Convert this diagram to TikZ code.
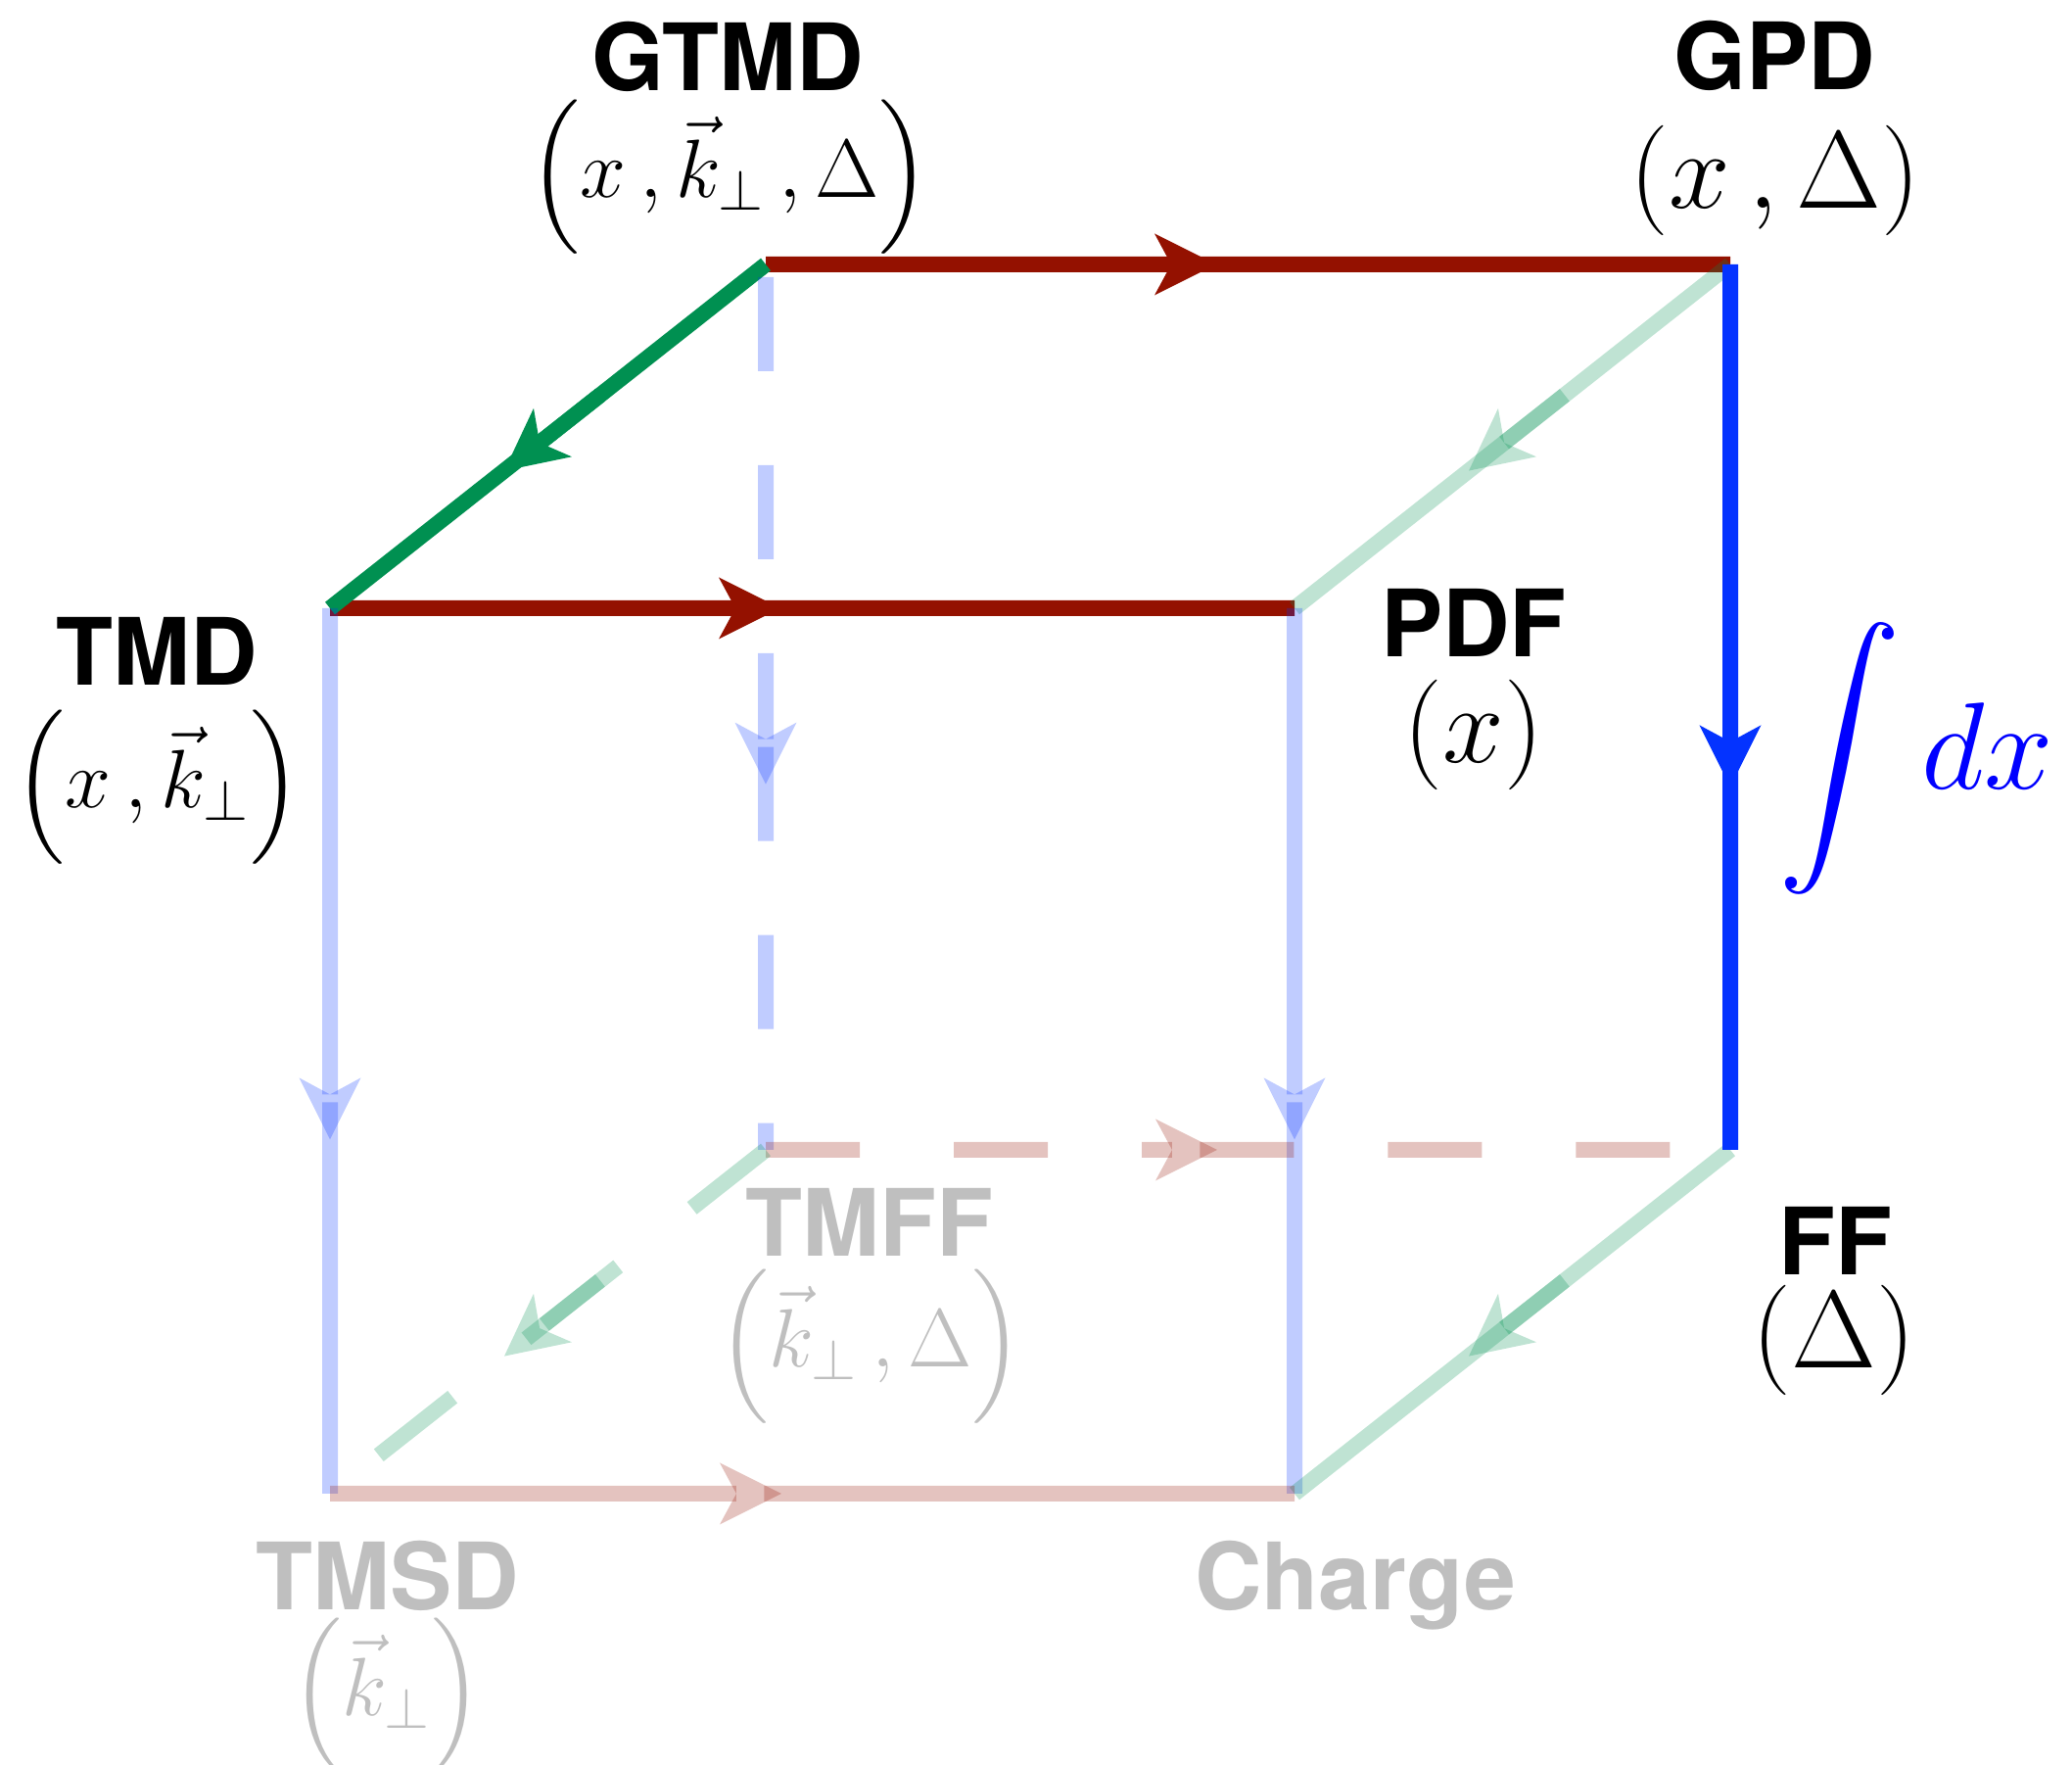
\RequirePackage{fix-cm}
\documentclass[tikz,border=0pt]{standalone}
\usepackage{amsmath}
\usepackage{graphicx}
\usepackage{fontspec}
\newfontfamily\heros{TeX Gyre Heros}
\usepackage{tikz}
\usetikzlibrary{arrows.meta, calc}
\definecolor{cayenne}{HTML}{941100}
\definecolor{moss}{HTML}{009051}
\definecolor{blueberry}{HTML}{0433FF}

\begin{document}
\begin{tikzpicture}[x=1cm, y=1cm, >={Stealth[length=6.3mm, width=6.3mm, inset=1.7mm, line width=0pt]},
        wire/.style={line width=1.6mm},
        faint/.style={opacity=0.25},
        gap/.style={dash pattern=on 9.6mm off 9.6mm},
        lbl/.style={font=\heros\bfseries\fontsize{27}{32}\selectfont, anchor=base},
        vars/.style={font=\fontsize{32}{38}\selectfont, anchor=base},
        kvars/.style={font=\fontsize{24}{29}\selectfont, anchor=base},
        ghost/.style={text=black!25}]

        \useasboundingbox (0,0) rectangle (21.16,18.02);

        % Corners of the cube
        % Back face
        \coordinate (gtmd) at (7.82,15.32);
        \coordinate (gpd) at (17.67,15.32);
        \coordinate (tmff) at (7.82,6.28);
        \coordinate (ff) at (17.67,6.28);
        % Front face
        \coordinate (tmd) at (3.37,11.81);
        \coordinate (pdf) at (13.22,11.81);
        \coordinate (tmsd) at (3.37,2.77);
        \coordinate (charge) at (13.22,2.77);

        % Integration over k (top edges)
        \draw[wire, cayenne, ->] (gtmd) -- ($(gtmd)!0.467!(gpd)$);
        \draw[wire, cayenne] ($(gtmd)!0.449!(gpd)$) -- (gpd);
        \draw[wire, cayenne, ->] (tmd) -- ($(tmd)!0.467!(pdf)$);
        \draw[wire, cayenne] ($(tmd)!0.449!(pdf)$) -- (pdf);

        % Delta -> 0 (top left edge)
        \draw[wire, moss, ->] (gtmd) -- ($(gtmd)!0.6!(tmd)$);
        \draw[wire, moss] ($(gtmd)!0.38!(tmd)$) -- (tmd);

        % Faded edges
        \draw[wire, faint, moss, ->] (gpd) -- ($(gpd)!0.6!(pdf)$);
        \draw[wire, faint, moss] ($(gpd)!0.38!(pdf)$) -- (pdf);
        \draw[wire, faint, blueberry, ->] (tmd) -- ($(tmd)!0.6!(tmsd)$);
        \draw[wire, faint, blueberry] ($(tmd)!0.558!(tmsd)$) -- (tmsd);
        \draw[wire, faint, blueberry, ->] (pdf) -- ($(pdf)!0.6!(charge)$);
        \draw[wire, faint, blueberry] ($(pdf)!0.558!(charge)$) -- (charge);
        \draw[wire, faint, moss, ->] (ff) -- ($(ff)!0.6!(charge)$);
        \draw[wire, faint, moss] ($(ff)!0.38!(charge)$) -- (charge);
        \draw[wire, faint, cayenne, ->] (tmsd) -- ($(tmsd)!0.468!(charge)$);
        \draw[wire, faint, cayenne] ($(tmsd)!0.45!(charge)$) -- (charge);

        % Hidden edges (dashed)
        \draw[wire, faint, gap, dash phase=17.9mm, blueberry, ->] (gtmd) -- ($(gtmd)!0.587!(tmff)$);
        \draw[wire, faint, gap, blueberry] ($(gtmd)!0.545!(tmff)$) -- (tmff);
        \draw[wire, faint, gap, cayenne, ->] (tmff) -- ($(tmff)!0.468!(ff)$);
        \draw[wire, faint, gap, cayenne] ($(tmff)!0.45!(ff)$) -- (ff);
        \draw[wire, faint, gap, moss, ->] (tmff) -- ($(tmff)!0.6!(tmsd)$);
        \draw[wire, faint, gap, moss] ($(tmff)!0.38!(tmsd)$) -- (tmsd);

        % Integration over x (back right edge)
        \draw[wire, blueberry, ->] (gpd) -- ($(gpd)!0.59!(ff)$);
        \draw[wire, blueberry] ($(gpd)!0.548!(ff)$) -- (ff);

        % Labels of the corners
        \node[lbl] (gtmdlbl) at (7.43,17.09) {GTMD};
        \node[kvars] (gtmdvars) at (7.45,16.00) {$\Bigl(x\,, \vec{k}_\perp\,, \Delta\Bigr)$};
        \node[lbl] (gpdlbl) at (18.12,17.10) {GPD};
        \node[vars] (gpdvars) at (18.13,15.89) {$(x\,, \Delta)$};
        \node[lbl] (tmdlbl) at (1.60,11.02) {TMD};
        \node[kvars] (tmdvars) at (1.61,9.77) {$\Bigl(x\,, \vec{k}_\perp\Bigr)$};
        \node[lbl] (pdflbl) at (15.05,11.31) {PDF};
        \node[vars] (pdfvars) at (15.05,10.23) {$(x)$};
        \node[lbl] (fflbl) at (18.74,5.00) {FF};
        \node[vars] (ffvars) at (18.73,4.05) {$(\Delta)$};
        \node[lbl, ghost] (tmfflbl) at (8.88,5.19) {TMFF};
        \node[kvars, ghost] (tmffvars) at (8.89,4.06) {$\Bigl(\vec{k}_\perp\,, \Delta\Bigr)$};
        \node[lbl, ghost] (tmsdlbl) at (3.96,1.58) {TMSD};
        \node[kvars, ghost] (tmsdvars) at (3.95,0.50) {$\Bigl(\vec{k}_\perp\Bigr)$};
        \node[lbl, ghost] (chargelbl) at (13.84,1.58) {Charge};

        % Integral next to the blue edge
        \node[text=blue, font=\fontsize{36}{43}\selectfont] (intdx) at (19.57,10.28)
            {$\vcenter{\hbox{\scalebox{1.43}{$\displaystyle\int$}}}\,dx$};
    \end{tikzpicture}
\end{document}
